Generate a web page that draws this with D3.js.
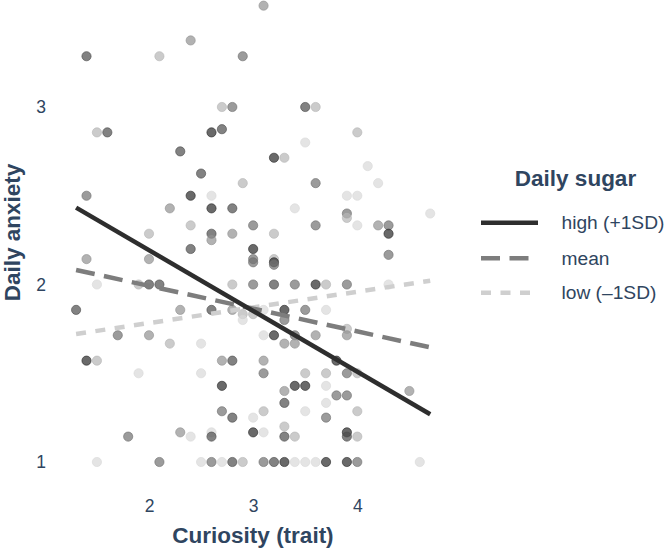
<!DOCTYPE html>
<html>
<head>
<meta charset="utf-8">
<script src="https://cdn.jsdelivr.net/npm/d3@7"></script>
<style>
  html, body { margin: 0; padding: 0; background: #ffffff; }
  svg { display: block; font-family: "Liberation Sans", Arial, Helvetica, sans-serif; }
</style>
</head>
<body>
<svg id="chart" width="668" height="551"></svg>
<script>
// ---- data ----
// points: curiosity (x), daily anxiety (y), sugar level (1 = low ... 6 = high)
const curiosity = [
  1.4,2.1,2.4,2.9,3.1,2.7,2.8,1.5,1.6,2.6,2.7,2.3,2.5,3.5,3.6,4.0,3.5,3.2,3.3,4.1,
  2.9,1.4,2.4,2.6,2.2,2.6,2.8,2.4,2.0,2.6,2.6,2.8,2.4,1.4,2.0,1.5,1.9,2.0,2.1,2.8,
  1.3,2.3,2.6,
  3.6,4.2,3.9,4.0,3.4,3.9,3.9,4.7,3.0,3.6,4.0,4.2,4.3,3.2,4.3,3.0,3.0,3.0,3.2,3.2,
  3.2,4.3,3.0,3.2,3.4,3.6,3.7,3.9,4.3,2.8,3.3,3.5,3.7,3.1,2.9,2.9,3.0,3.3,3.9,
  1.7,2.0,2.2,2.5,1.4,1.5,2.7,2.8,1.9,2.5,2.7,2.7,2.8,1.8,2.3,2.4,2.6,2.6,
  1.5,2.1,2.5,2.6,2.7,2.8,2.9,3.1,3.2,3.3,3.4,3.5,3.6,3.7,3.9,4.0,4.6,
  3.1,3.2,3.4,3.6,3.9,3.3,3.4,3.1,3.8,3.1,3.5,3.7,3.9,4.0,3.4,3.5,3.7,3.3,4.5,3.3,
  3.7,3.8,3.9,3.1,3.5,4.0,3.0,3.7,3.0,3.1,3.3,3.3,3.4,3.9,3.9,4.0
];
const anxiety = [
  3.286,3.286,3.375,3.286,3.571,3.0,3.0,2.857,2.857,2.857,2.875,2.75,2.625,3.0,3.0,2.857,2.8,2.714,2.714,2.667,
  2.571,2.5,2.5,2.5,2.429,2.429,2.429,2.333,2.286,2.286,2.25,2.286,2.2,2.143,2.143,2.0,2.0,2.0,2.0,2.0,
  1.857,1.857,1.857,
  2.571,2.571,2.5,2.5,2.429,2.4,2.375,2.4,2.333,2.333,2.333,2.333,2.333,2.286,2.286,2.2,2.143,2.125,2.143,2.125,
  2.111,2.167,2.0,2.0,2.0,2.0,2.0,2.0,2.0,1.857,1.857,1.857,1.857,1.857,1.833,1.8,1.833,1.8,1.75,
  1.714,1.714,1.667,1.667,1.571,1.571,1.571,1.571,1.5,1.5,1.429,1.286,1.25,1.143,1.167,1.143,1.167,1.143,
  1.0,1.0,1.0,1.0,1.0,1.0,1.0,1.0,1.0,1.0,1.0,1.0,1.0,1.0,1.0,1.0,1.0,
  1.714,1.714,1.714,1.714,1.714,1.667,1.667,1.571,1.571,1.5,1.5,1.5,1.5,1.5,1.429,1.429,1.429,1.4,1.4,1.333,
  1.333,1.375,1.375,1.286,1.286,1.286,1.25,1.25,1.167,1.167,1.2,1.143,1.143,1.167,1.143,1.143
];
const sugar = [
  5,2,3,4,3,2,4,2,5,6,5,5,5,5,2,2,1,6,2,1,
  2,4,6,1,3,6,5,2,2,5,3,3,5,3,3,1,2,5,5,2,
  5,3,5,
  4,1,1,1,1,4,2,1,4,4,1,3,4,2,6,6,4,4,2,6,
  4,4,4,5,4,6,2,4,1,3,6,4,1,1,2,1,2,4,2,
  4,3,2,1,6,2,3,5,1,1,6,4,5,4,3,1,1,5,
  1,4,1,4,1,5,2,4,5,6,1,1,1,6,6,4,1,
  1,6,4,3,3,3,3,3,6,4,2,2,4,2,6,6,1,3,3,5,
  1,4,4,2,1,2,1,4,6,1,2,5,2,6,5,2
];

// fitted simple slopes
const lineLabels = ["high (+1SD)", "mean", "low (\u20131SD)"];
const lineX = [1.3, 4.7];
const lineStartY = [2.433, 2.082, 1.721];
const lineEndY = [1.269, 1.646, 2.021];
const lineColors = ["#2e2e2e", "#7d7d7d", "#cfcfcf"];
const lineDashes = [null, "19,9.5", "10,9.5"];

const xTicks = [2, 3, 4];
const yTicks = [1, 2, 3];

// ---- drawing ----
const svg = d3.select("#chart");
const textColor = "#2f4560";

const x = d3.scaleLinear().domain([2, 4]).range([149, 357.3]);
const y = d3.scaleLinear().domain([1, 3]).range([462, 107]);
const shade = d3.scaleLinear().domain([1, 6]).range(["#d8d8d8", "#2a2a2a"]);

const points = curiosity.map((c, i) => ({x: c, y: anxiety[i], s: sugar[i]}));

svg.append("g")
  .selectAll("circle")
  .data(points)
  .join("circle")
  .attr("cx", d => x(d.x))
  .attr("cy", d => y(d.y))
  .attr("r", 4.6)
  .attr("fill", d => shade(d.s))
  .attr("fill-opacity", 0.7)
  .attr("stroke", d => shade(d.s))
  .attr("stroke-opacity", 0.7)
  .attr("stroke-width", 0.9);

const lines = lineLabels.map((l, i) => ({
  label: l, color: lineColors[i], dash: lineDashes[i],
  pts: [[lineX[0], lineStartY[i]], [lineX[1], lineEndY[i]]]
}));

const lineGen = d3.line().x(d => x(d[0])).y(d => y(d[1]));

svg.append("g")
  .selectAll("path")
  .data(lines.slice().reverse())
  .join("path")
  .attr("d", d => lineGen(d.pts))
  .attr("fill", "none")
  .attr("stroke", d => d.color)
  .attr("stroke-width", 4.5)
  .attr("stroke-dasharray", d => d.dash);

// axes (labels only, no lines)
const xAxis = svg.append("g")
  .attr("transform", "translate(0,500)")
  .call(d3.axisBottom(x).tickValues(xTicks).tickFormat(d3.format("d")).tickSize(0).tickPadding(0));
xAxis.select(".domain").remove();
xAxis.selectAll("text")
  .attr("fill", textColor)
  .attr("font-size", "17.5px")
  .attr("font-family", "Liberation Sans, Arial, sans-serif")
  .attr("dy", "0.71em");

const yAxis = svg.append("g")
  .attr("transform", "translate(46,0)")
  .call(d3.axisLeft(y).tickValues(yTicks).tickFormat(d3.format("d")).tickSize(0).tickPadding(0));
yAxis.select(".domain").remove();
yAxis.selectAll("text")
  .attr("fill", textColor)
  .attr("font-size", "17.5px")
  .attr("font-family", "Liberation Sans, Arial, sans-serif");

// axis titles
svg.append("text")
  .attr("x", 253).attr("y", 543)
  .attr("text-anchor", "middle")
  .attr("fill", textColor)
  .attr("font-size", "22.5px")
  .attr("font-weight", "bold")
  .text("Curiosity (trait)");

svg.append("text")
  .attr("transform", "translate(19.5,232.5) rotate(-90)")
  .attr("text-anchor", "middle")
  .attr("fill", textColor)
  .attr("font-size", "22.5px")
  .attr("font-weight", "bold")
  .text("Daily anxiety");

// legend
const legend = svg.append("g");
legend.append("text")
  .attr("x", 575.5).attr("y", 185.5)
  .attr("text-anchor", "middle")
  .attr("fill", textColor)
  .attr("font-size", "22.5px")
  .attr("font-weight", "bold")
  .text("Daily sugar");

const legendY = [222.7, 258.3, 292.7];
const items = legend.selectAll("g.item")
  .data(lines)
  .join("g")
  .attr("class", "item")
  .attr("transform", (d, i) => `translate(0,${legendY[i]})`);

items.append("line")
  .attr("x1", 481).attr("x2", 538)
  .attr("stroke", d => d.color)
  .attr("stroke-width", 4.5)
  .attr("stroke-dasharray", d => d.dash);

items.append("text")
  .attr("x", 561.5).attr("y", 0)
  .attr("dy", "0.35em")
  .attr("fill", textColor)
  .attr("font-size", "19.2px")
  .text(d => d.label);
</script>
</body>
</html>
